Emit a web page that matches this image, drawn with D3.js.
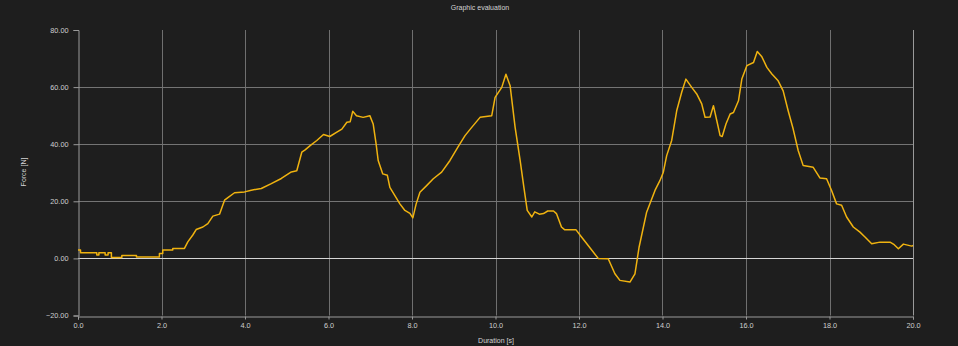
<!DOCTYPE html>
<html>
<head>
<meta charset="utf-8">
<script src="https://cdn.jsdelivr.net/npm/d3@7"></script>
<style>
  html, body { margin: 0; padding: 0; background: #1e1e1e; }
  svg { display: block; }
</style>
</head>
<body>
<div id="chart"></div>
<script>
// values
const times = [
    0.0, 0.06, 0.06, 0.45, 0.45, 0.5, 0.5, 0.65, 0.65, 0.72, 0.72, 0.8, 0.8, 1.05, 1.05, 1.4, 1.4, 1.95, 1.95, 2.03,
    2.03, 2.27, 2.27, 2.55, 2.63, 2.75, 2.83, 2.99, 3.11, 3.23, 3.39, 3.51, 3.59, 3.75, 3.99, 4.15, 4.39, 4.63, 4.87, 5.11,
    5.24, 5.36, 5.44, 5.56, 5.72, 5.88, 6.03, 6.2, 6.32, 6.44, 6.52, 6.58, 6.67, 6.83, 6.99, 7.07, 7.14, 7.19, 7.3, 7.41,
    7.47, 7.59, 7.71, 7.83, 7.95, 8.02, 8.1, 8.19, 8.35, 8.51, 8.71, 8.91, 9.11, 9.27, 9.43, 9.63, 9.91, 9.99, 10.15, 10.25,
    10.35, 10.47, 10.59, 10.68, 10.76, 10.87, 10.94, 11.05, 11.15, 11.25, 11.39, 11.46, 11.58, 11.66, 11.93, 12.06, 12.22, 12.46, 12.7, 12.86,
    12.98, 13.22, 13.34, 13.44, 13.62, 13.82, 13.94, 14.02, 14.1, 14.22, 14.34, 14.46, 14.56, 14.7, 14.82, 14.94, 15.02, 15.14, 15.22, 15.3,
    15.38, 15.43, 15.52, 15.62, 15.7, 15.82, 15.9, 16.02, 16.18, 16.27, 16.38, 16.5, 16.62, 16.77, 16.89, 17.01, 17.13, 17.25, 17.37, 17.61,
    17.77, 17.93, 18.05, 18.17, 18.29, 18.41, 18.57, 18.73, 18.85, 19.01, 19.21, 19.45, 19.55, 19.65, 19.77, 19.97, 20.0
];
const forces = [
    2.9, 2.9, 2.0, 2.0, 1.2, 1.2, 2.0, 2.0, 1.2, 1.2, 2.0, 2.0, 0.3, 0.3, 1.0, 1.0, 0.5, 0.5, 1.7, 1.7,
    2.9, 2.9, 3.5, 3.5, 5.8, 8.2, 10.1, 11.0, 12.2, 14.8, 15.5, 20.4, 21.3, 23.0, 23.3, 23.9, 24.5, 26.2, 28.0, 30.3,
    30.7, 37.2, 38.0, 39.5, 41.3, 43.4, 42.7, 44.2, 45.3, 47.7, 47.9, 51.5, 50.0, 49.4, 50.0, 47.1, 40.1, 34.3, 29.6, 29.1,
    24.9, 22.0, 19.1, 16.8, 15.8, 14.2, 19.1, 23.2, 25.5, 27.9, 30.2, 34.3, 39.2, 43.0, 45.9, 49.4, 50.0, 56.4, 59.9, 64.5,
    60.5, 45.9, 34.3, 24.9, 16.8, 14.5, 16.3, 15.5, 15.7, 16.6, 16.6, 15.7, 11.0, 10.0, 10.0, 7.5, 4.5, 0.0, -0.1, -5.4,
    -7.7, -8.3, -5.4, 4.0, 16.2, 23.8, 27.3, 30.2, 36.0, 41.3, 51.7, 58.2, 62.8, 59.9, 57.6, 54.1, 49.4, 49.5, 53.5, 48.3,
    43.0, 42.7, 47.1, 50.6, 51.1, 55.2, 62.8, 67.5, 68.6, 72.5, 70.6, 66.9, 64.6, 62.2, 58.7, 51.7, 45.3, 37.8, 32.5, 31.9,
    28.2, 27.9, 23.8, 19.1, 18.6, 14.5, 11.0, 9.2, 7.5, 5.1, 5.7, 5.7, 4.8, 3.4, 5.0, 4.3, 4.5
];
const xTicks = [0, 2, 4, 6, 8, 10, 12, 14, 16, 18, 20];
const yTicks = [-20, 0, 20, 40, 60, 80];
const gridY = [20, 40, 60];

const width = 958;
const height = 346;
const margin = { top: 30, right: 45, bottom: 30.5, left: 78 };
const font = "'Liberation Sans', Arial, sans-serif";

const data = times.map((t, i) => ({ t: t, f: forces[i] }));

const svg = d3.select("#chart")
    .append("svg")
    .attr("width", width)
    .attr("height", height)
    .style("background", "#1e1e1e");

const x = d3.scaleLinear()
    .domain([0, 20])
    .range([margin.left, width - margin.right]);

const y = d3.scaleLinear()
    .domain([-20, 80])
    .range([height - margin.bottom, margin.top]);

// vertical grid
svg.append("g")
    .selectAll("line")
    .data(xTicks.filter(d => d > 0))
    .join("line")
    .attr("x1", d => Math.round(x(d)) + 0.5)
    .attr("x2", d => Math.round(x(d)) + 0.5)
    .attr("y1", y(80))
    .attr("y2", y(-20))
    .attr("stroke", d => d === 20 ? "#9a9a9a" : "#6f6f6f")
    .attr("stroke-width", 1);

// horizontal grid
svg.append("g")
    .selectAll("line")
    .data(gridY)
    .join("line")
    .attr("x1", x(0))
    .attr("x2", x(20))
    .attr("y1", d => Math.round(y(d)) + 0.5)
    .attr("y2", d => Math.round(y(d)) + 0.5)
    .attr("stroke", "#747474")
    .attr("stroke-width", 1);

// zero line
svg.append("line")
    .attr("x1", x(0))
    .attr("x2", x(20))
    .attr("y1", Math.round(y(0)) + 0.5)
    .attr("y2", Math.round(y(0)) + 0.5)
    .attr("stroke", "#d6d6d6")
    .attr("stroke-width", 1);

// axes
const yAxis = svg.append("g")
    .attr("transform", `translate(${Math.round(x(0)) + 0.5},0)`)
    .call(d3.axisLeft(y).tickValues(yTicks).tickFormat(d3.format(".2f")).tickSize(5).tickPadding(5));

const xAxis = svg.append("g")
    .attr("transform", `translate(0,${Math.round(y(-20)) + 0.5})`)
    .call(d3.axisBottom(x).tickValues(xTicks).tickFormat(d3.format(".1f")).tickSize(3).tickPadding(3));

[yAxis, xAxis].forEach(ax => {
    ax.select(".domain").attr("stroke", "#9a9a9a");
    ax.selectAll(".tick line").attr("stroke", "#9a9a9a");
    ax.selectAll(".tick text")
        .attr("fill", "#cfcfcf")
        .style("font-family", font)
        .style("font-size", "7.3px");
});

// force curve
svg.append("path")
    .datum(data)
    .attr("fill", "none")
    .attr("stroke", "#f0b310")
    .attr("stroke-width", 1.5)
    .attr("stroke-linejoin", "round")
    .attr("d", d3.line()
        .x(d => x(d.t))
        .y(d => y(d.f)));

// titles and labels
svg.append("text")
    .attr("x", 480)
    .attr("y", 10)
    .attr("text-anchor", "middle")
    .attr("fill", "#d4d4d4")
    .style("font-family", font)
    .style("font-size", "7px")
    .text("Graphic evaluation");

svg.append("text")
    .attr("x", 496)
    .attr("y", 342.5)
    .attr("text-anchor", "middle")
    .attr("fill", "#d4d4d4")
    .style("font-family", font)
    .style("font-size", "7px")
    .text("Duration [s]");

svg.append("text")
    .attr("transform", "rotate(-90)")
    .attr("x", -172)
    .attr("y", 25.5)
    .attr("text-anchor", "middle")
    .attr("fill", "#d4d4d4")
    .style("font-family", font)
    .style("font-size", "7px")
    .text("Force [N]");
</script>
</body>
</html>
